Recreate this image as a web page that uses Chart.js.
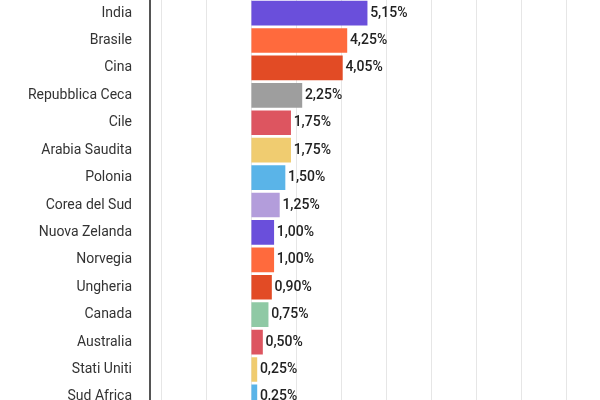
<!DOCTYPE html>
<html>
<head>
<meta charset="utf-8">
<script src="https://cdn.jsdelivr.net/npm/chart.js@4"></script>
<style>
  html, body { margin: 0; padding: 0; background: #fff; overflow: hidden; }
  #wrap { position: absolute; left: 0; top: -19px; width: 600px; height: 448px; }
</style>
</head>
<body>
<div id="wrap"><canvas id="chart"></canvas></div>
<script>
const countries = ["India", "Brasile", "Cina", "Repubblica Ceca", "Cile", "Arabia Saudita",
  "Polonia", "Corea del Sud", "Nuova Zelanda", "Norvegia", "Ungheria", "Canada",
  "Australia", "Stati Uniti", "Sud Africa"];
const rates = [5.15, 4.25, 4.05, 2.25, 1.75, 1.75, 1.50, 1.25, 1.00, 1.00, 0.90, 0.75, 0.50, 0.25, 0.25];
const barColors = ["#6a4fdb", "#ff6a3d", "#e24b25", "#9e9e9e", "#dd5560", "#f0cc70",
  "#5ab4e8", "#b39ddb", "#6a4fdb", "#ff6a3d", "#e24b25", "#8fc9a5", "#dd5560", "#f0cc70", "#5ab4e8"];

// value labels to the right of each bar
const valueLabels = {
  id: "valueLabels",
  afterDatasetsDraw(chart) {
    const ctx = chart.ctx;
    const meta = chart.getDatasetMeta(0);
    ctx.save();
    ctx.font = "500 14px Roboto";
    ctx.fillStyle = "#222";
    ctx.textBaseline = "middle";
    meta.data.forEach((bar, i) => {
      ctx.fillText(rates[i].toFixed(2).replace(".", ",") + "%", bar.x + 3, bar.y);
    });
    ctx.restore();
  }
};

new Chart(document.getElementById("chart").getContext("2d"), {
  type: "bar",
  data: {
    labels: countries,
    datasets: [{
      data: rates,
      backgroundColor: barColors,
      barThickness: 24
    }]
  },
  options: {
    indexAxis: "y",
    responsive: true,
    maintainAspectRatio: false,
    animation: false,
    layout: { padding: { top: 6, bottom: 0, left: 0, right: 0 } },
    plugins: { legend: { display: false }, tooltip: { enabled: false } },
    scales: {
      x: {
        min: -4.5,
        max: 15.5,
        afterBuildTicks: scale => {
          scale.ticks = [-4, -2, 0, 2, 4, 6, 8, 10, 12, 14].map(v => ({ value: v }));
        },
        ticks: { display: false },
        grid: { color: "#e6e6e6", drawTicks: false },
        border: { display: false }
      },
      y: {
        afterFit: scale => { scale.width = 150; },
        ticks: { color: "#333", font: { family: "Roboto", size: 14 }, padding: 10 },
        grid: { display: false },
        border: { color: "#555", width: 2 }
      }
    }
  },
  plugins: [valueLabels]
});
</script>
</body>
</html>
